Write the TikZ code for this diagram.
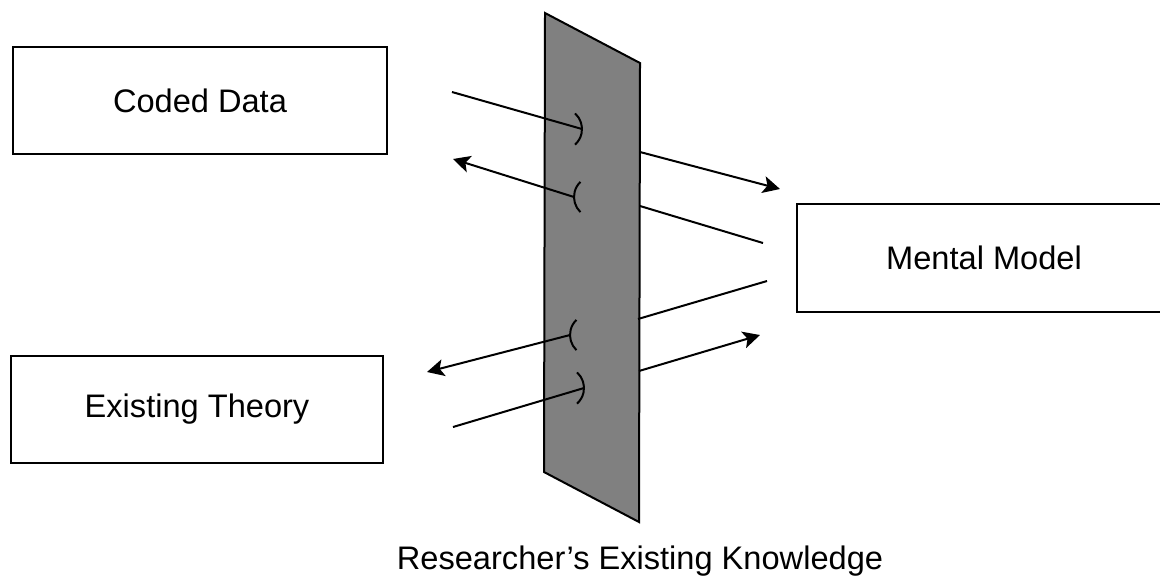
\documentclass[tikz,border=0pt]{standalone}
\usepackage{fontspec}
\setmainfont{Liberation Sans}
\usetikzlibrary{arrows.meta}
\newcommand{\sockR}[1]{\draw (#1) ++(-21,0) ++(-48:21) arc[start angle=-48,end angle=48,radius=21];}
\newcommand{\sockL}[1]{\draw (#1) ++(21,0) ++(134:21) arc[start angle=134,end angle=226,radius=21];}

\begin{document}
\begin{tikzpicture}[x=0.5pt,y=-0.5pt,>={Stealth[length=8.5pt,width=8.5pt,inset=2pt]},line width=1pt,
  block/.style={draw,inner sep=0pt,minimum height=53.5pt,font=\fontsize{16.3}{19}\selectfont}]
\useasboundingbox (0,0) rectangle (1160,575);
\clip (0,0) rectangle (1160,575);
% boxes
\node[block,minimum width=187pt] (coded) at (200,100.5) {Coded Data};
\node[block,minimum width=186pt] (theory) at (197,409.5) {Existing Theory};
\node[block,minimum width=187pt,minimum height=54pt] (model) at (984,258) {Mental Model};
% the filter
\draw[fill=gray] (545,13) -- (640,63) -- (639,522) -- (544,472) -- cycle;
\node[anchor=base,font=\fontsize{16.3}{19}\selectfont] (knowledge) at (640,569) {Researcher’s Existing Knowledge};
% ends of the connectors
\coordinate (c1) at (452,92);
\coordinate (s1) at (582,129);
\coordinate (s2) at (574,197);
\coordinate (c2) at (453,159);
\coordinate (p1) at (640,152);
\coordinate (m1) at (780,189);
\coordinate (p2) at (640,206);
\coordinate (m2) at (763,243);
\coordinate (m3) at (767,281);
\coordinate (p3) at (638,319);
\coordinate (p4) at (639,371);
\coordinate (m4) at (760,335);
\coordinate (s3) at (570,335);
\coordinate (t1) at (427,372);
\coordinate (t2) at (453,427);
\coordinate (s4) at (584,388);
% connectors
\draw (c1)--(s1);
\draw[->] (s2)--(c2);
\draw[->] (p1)--(m1);
\draw (p2)--(m2);
\draw (m3)--(p3);
\draw[->] (p4)--(m4);
\draw[->] (s3)--(t1);
\draw (t2)--(s4);
\sockR{s1}
\sockL{s2}
\sockL{s3}
\sockR{s4}
\end{tikzpicture}
\end{document}
